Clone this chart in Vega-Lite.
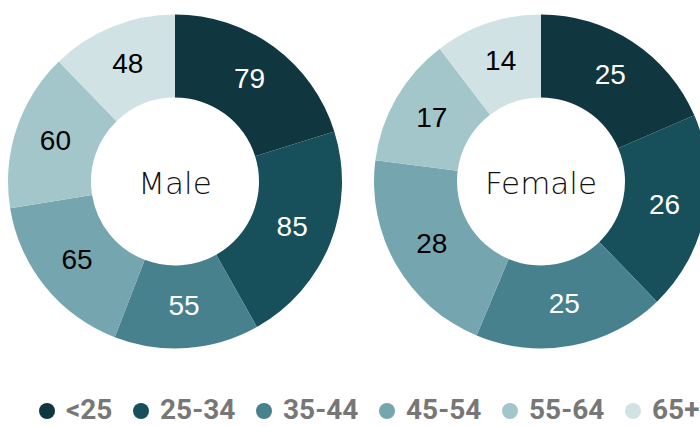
{
  "$schema": "https://vega.github.io/schema/vega-lite/v6.json",
  "padding": {"left": 8, "top": 0, "right": 0, "bottom": 0},
  "background": "white",
  "data": {
    "values": [
      {"gender": "Male", "age": "<25", "idx": 1, "value": 79},
      {"gender": "Male", "age": "25-34", "idx": 2, "value": 85},
      {"gender": "Male", "age": "35-44", "idx": 3, "value": 55},
      {"gender": "Male", "age": "45-54", "idx": 4, "value": 65},
      {"gender": "Male", "age": "55-64", "idx": 5, "value": 60},
      {"gender": "Male", "age": "65+", "idx": 6, "value": 48},
      {"gender": "Female", "age": "<25", "idx": 1, "value": 25},
      {"gender": "Female", "age": "25-34", "idx": 2, "value": 26},
      {"gender": "Female", "age": "35-44", "idx": 3, "value": 25},
      {"gender": "Female", "age": "45-54", "idx": 4, "value": 28},
      {"gender": "Female", "age": "55-64", "idx": 5, "value": 17},
      {"gender": "Female", "age": "65+", "idx": 6, "value": 14}
    ]
  },
  "facet": {
    "column": {"field": "gender", "type": "nominal", "sort": ["Male", "Female"], "header": null}
  },
  "spacing": 32,
  "spec": {
    "width": 330,
    "height": 363,
    "layer": [
      {
        "mark": {"type": "arc", "innerRadius": 84, "outerRadius": 167},
        "encoding": {
          "theta": {"field": "value", "type": "quantitative", "stack": "normalize"},
          "order": {"field": "idx", "type": "quantitative"},
          "color": {
            "field": "age",
            "type": "nominal",
            "scale": {
              "domain": ["<25", "25-34", "35-44", "45-54", "55-64", "65+"],
              "range": ["#10363f", "#174f5b", "#47818d", "#75a6af", "#a3c6cb", "#d1e2e5"]
            },
            "legend": {
              "orient": "none",
              "legendX": 23,
              "legendY": 397,
              "direction": "horizontal",
              "title": null
            }
          }
        }
      },
      {
        "mark": {"type": "text", "radius": 126, "font": "Liberation Sans", "fontSize": 28},
        "encoding": {
          "theta": {"field": "value", "type": "quantitative", "stack": "normalize"},
          "order": {"field": "idx", "type": "quantitative"},
          "text": {"field": "value", "type": "quantitative"},
          "color": {"condition": {"test": "datum.idx <= 3", "value": "#ffffff"}, "value": "#000000"}
        }
      },
      {
        "transform": [{"aggregate": [{"op": "sum", "field": "value", "as": "total"}], "groupby": ["gender"]}],
        "mark": {"type": "text", "font": "DejaVu Sans", "fontWeight": 200, "fontSize": 31, "color": "#111111", "dx": 0, "dy": 3},
        "encoding": {"text": {"field": "gender", "type": "nominal"}}
      }
    ]
  },
  "config": {
    "view": {"stroke": null},
    "legend": {
      "symbolType": "circle",
      "symbolSize": 256,
      "symbolStrokeWidth": 0,
      "labelFont": "Roboto",
      "labelFontSize": 28,
      "labelFontWeight": "bold",
      "labelColor": "#777777",
      "labelOffset": 5,
      "columnPadding": 14,
      "padding": 0
    }
  }
}
